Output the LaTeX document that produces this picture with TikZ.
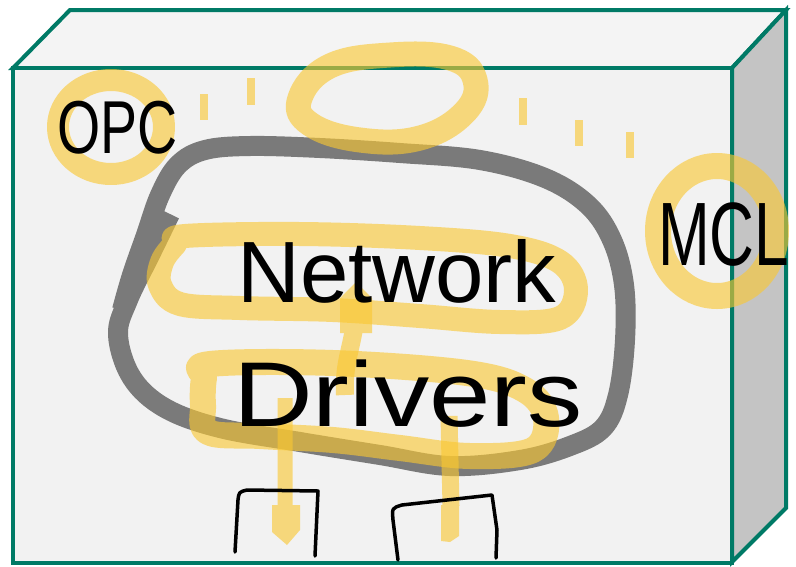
\documentclass[tikz,border=0pt]{standalone}
\usepackage{fontspec}
\setmainfont{Liberation Sans}
\begin{document}
\begin{tikzpicture}[x=1pt,y=-1pt,
  hand/.style={draw=black,line width=3.5pt,line cap=round,line join=round},
  hl/.style={draw=hlyel,draw opacity=0.62,line cap=butt,line join=round},
  hlgroup/.style={transparency group,opacity=0.62},
  lbl/.style={inner sep=0pt,anchor=base west,text=black}]
\definecolor{boxline}{RGB}{0,122,102}
\definecolor{frontf}{RGB}{242,242,242}
\definecolor{topf}{RGB}{244,244,244}
\definecolor{sidef}{RGB}{196,196,196}
\definecolor{hlyel}{RGB}{250,200,50}
\definecolor{loopgray}{RGB}{122,122,122}
\useasboundingbox (0,0) rectangle (796,566);
% box
\filldraw[fill=topf,draw=boxline,line width=4pt,line join=miter] (13,68) -- (70,10) -- (786,10) -- (732,68) -- cycle;
\filldraw[fill=sidef,draw=boxline,line width=4pt,line join=miter] (732,68) -- (786,10) -- (786,508) -- (732,562) -- cycle;
\filldraw[fill=frontf,draw=boxline,line width=4pt,line join=miter] (13,68) rectangle (732,563);
% gray loop
\draw[loopgray,line width=20pt,line cap=butt,line join=round] plot[smooth,tension=0.6] coordinates {(170,214) (150,255) (128,300) (118,335) (132,378) (165,408) (220,428) (300,442) (380,455) (450,466) (520,460) (570,446) (603,428) (618,395) (625,340) (624,285) (612,240) (588,205) (545,178) (480,160) (400,153) (320,148) (250,146) (205,150) (178,165) (160,195) (146,235) (132,275) (122,310)};
% yellow highlights
\draw[hl,line width=22pt] (111,127) ellipse [x radius=53,y radius=47];
\draw[hl,line width=25pt] plot[smooth cycle,tension=0.7] coordinates {(300,98) (330,66) (390,55) (450,58) (475,80) (465,112) (420,138) (360,140) (310,124)};
\draw[hl,line width=26pt] (717,231) ellipse [x radius=59,y radius=65];
\draw[hl,line width=8pt] (204,94) -- (204,120);
\draw[hl,line width=8pt] (251,78) -- (251,105);
\draw[hl,line width=8pt] (523,98) -- (523,125);
\draw[hl,line width=8pt] (579,120) -- (579,146);
\draw[hl,line width=8pt] (630,132) -- (630,158);
\draw[hl,line width=24pt] plot[smooth cycle,tension=0.6] coordinates {(185,236) (300,234) (420,238) (510,246) (560,262) (576,290) (560,318) (500,322) (420,316) (333,310) (240,308) (180,304) (160,285) (162,262) (175,244)};
\draw[hl,line width=26pt] plot[smooth cycle,tension=0.6] coordinates {(210,364) (333,363) (467,373) (525,390) (546,418) (533,450) (470,456) (400,448) (333,440) (260,436) (208,432) (203,405) (204,378)};
\begin{scope}[hlgroup]
\draw[hlyel,line width=18pt] (345,395) .. controls (343,355) and (356,345) .. (356,300);
\fill[hlyel] (340,333) -- (340,298) -- (356,282) -- (372,298) -- (372,333) -- cycle;
\end{scope}
\begin{scope}[hlgroup]
\draw[hlyel,line width=15pt] (285,398) -- (285,510);
\fill[hlyel] (272,505) -- (300,505) -- (300,530) -- (287,545) -- (272,532) -- cycle;
\end{scope}
\begin{scope}[hlgroup]
\draw[hlyel,line width=17pt] (449,416) -- (451,506);
\fill[hlyel] (441,505) -- (459,505) -- (459,536) -- (450,542) -- (441,541) -- cycle;
\end{scope}
% labels
\node[lbl,xscale=0.74] (opc) at (57,153) {\fontsize{75}{80}\selectfont OPC};
\node[lbl] (net) at (237,302) {\fontsize{87}{90}\selectfont Network};
\node[lbl,xscale=1.2] (drv) at (233,426) {\fontsize{92}{96}\selectfont Drivers};
\node[lbl,xscale=0.69] (mcl) at (658,265) {\fontsize{90}{96}\selectfont MCL};
% hand-drawn boxes
\draw[hand] (235,552) -- (238,500) .. controls (239,492) .. (247,490) -- (318,491) -- (315,556);
\draw[hand] (398,560) -- (393,520) .. controls (392,508) .. (402,505) -- (492,495) -- (497,530) -- (496,558);
\end{tikzpicture}
\end{document}
